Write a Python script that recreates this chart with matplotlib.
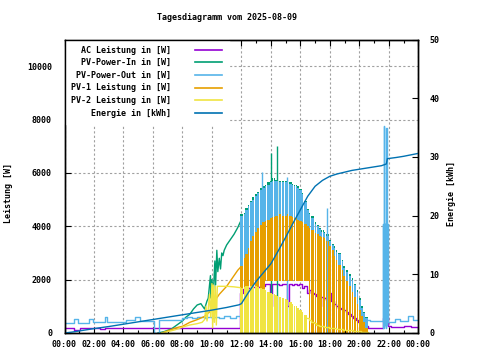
import numpy as np
import matplotlib
matplotlib.use("Agg")
import matplotlib.pyplot as plt
from matplotlib.lines import Line2D
from matplotlib.ticker import MultipleLocator

plt.rcParams['font.family'] = ['DejaVu Sans Mono']
plt.rcParams['font.weight'] = 'bold'
FS = 6.0

TITLE = "Tagesdiagramm vom 2025-08-09"
YLABEL = "Leistung [W]"
Y2LABEL = "Energie [kWh]"
SERIES_NAMES = ["AC Leistung in [W]", "PV-Power-In in [W]", "PV-Power-Out in [W]",
                "PV-1 Leistung in [W]", "PV-2 Leistung in [W]", "Energie in [kWh]"]
COLORS = ["#9400d3", "#009e73", "#56b4e9", "#e69f00", "#f0e442", "#0072b2"]

x_ticks_h = [0, 2, 4, 6, 8, 10, 12, 14, 16, 18, 20, 22, 24]
x_tick_labels = ["00:00", "02:00", "04:00", "06:00", "08:00", "10:00", "12:00",
                 "14:00", "16:00", "18:00", "20:00", "22:00", "00:00"]
y_ticks = [0, 2000, 4000, 6000, 8000, 10000]
y2_ticks = [0, 10, 20, 30, 40, 50]

# ---------------- AC Leistung (purple) ----------------
ac_am_t = ["00:00", "00:40", "01:05", "02:25", "02:45", "04:00", "05:00", "06:00", "07:00",
           "08:00", "08:30", "09:30", "10:30", "11:30", "11:55"]
ac_am_v = [190, 130, 190, 150, 190, 180, 190, 185, 190, 170, 190, 180, 190, 180, 180]
ac_pm_t = ["20:35", "21:00", "21:38", "21:45", "21:50", "21:55", "22:10", "23:00", "23:30", "24:00"]
ac_pm_v = [200, 180, 550, 300, 600, 250, 230, 260, 230, 230]

# ---------------- daytime band (10-min samples from 11:55) ----------------
BAND_START = "11:55"
BAND_STEP_MIN = 10
ac_day_v = [1500, 1650, 1700, 1700, 1720, 1720, 1740, 1740, 1750, 1760,
            1820, 1850, 1000, 1830, 1850, 1820, 1800, 1850, 1820, 1000,
            1830, 1800, 1850, 1800, 1820, 1700, 1750, 1500, 1600, 1500,
            1450, 1400, 1000, 1350, 1300, 1250, 1500, 1200, 1100, 1000,
            950, 900, 850, 800, 700, 650, 550, 500, 400, 350,
            300, 250, 200]
pvin_day_hi = [4450, 4500, 4700, 4800, 4950, 5100, 5200, 5300, 5450, 5500,
               5550, 5650, 5700, 5800, 5750, 5750, 5700, 5700, 5700, 5650,
               5650, 5600, 5550, 5500, 5400, 5250, 4950, 4650, 4500, 4400,
               4150, 4050, 3950, 3850, 3800, 3700, 3500, 3350, 3250, 3100,
               3000, 2750, 2500, 2350, 2200, 2050, 1850, 1600, 1300, 1000,
               800, 600, 500]
pvout_day_hi = [4400, 4450, 4600, 4750, 4900, 5000, 5150, 5250, 5350, 5450,
                5500, 5550, 5650, 5700, 5700, 5700, 5650, 5650, 5650, 5600,
                5600, 5550, 5500, 5450, 5350, 5200, 4900, 4600, 4450, 4300,
                4100, 4000, 3900, 3800, 3750, 3650, 3450, 3300, 3200, 3050,
                2950, 2700, 2450, 2300, 2150, 2000, 1800, 1550, 1250, 950,
                750, 550, 470]
pv1_day_hi = [2500, 2800, 2950, 3200, 3450, 3650, 3800, 3950, 4050, 4150,
              4200, 4250, 4300, 4350, 4400, 4400, 4450, 4400, 4400, 4450,
              4400, 4350, 4300, 4250, 4200, 4150, 4100, 4000, 3950, 3850,
              3750, 3700, 3650, 3600, 3550, 3450, 3250, 3100, 2900, 2750,
              2550, 2350, 2150, 1950, 1750, 1550, 1350, 1100, 850, 650,
              400, 200, 0]
band_lo = ([0, 0, 0, 0, 0, 0, 0, 0, 0, 0]
           + [1950, 1950, 1950, 1950, 1950, 1950, 1950, 1950, 1950,
              1950, 1950, 1950, 1950, 1950, 1950, 1950, 1950, 1950]
           + [0, 0, 0, 0, 0, 0, 0, 0, 0, 0, 0, 0, 0, 0, 0, 0, 0, 0, 0, 0, 0, 0, 0, 0, 0])
pv2_day_hi = [1700, 1720, 1750, 1750, 1750, 1750, 1750, 1730, 1700, 1650,
              1600, 1550, 1500, 1470, 1430, 1400, 1350, 1300, 1270, 1230,
              1180, 1100, 1030, 950, 870, 780, 680, 580, 480, 420,
              360, 310, 280, 250, 230, 210, 200, 190, 180, 165,
              150, 140, 130, 120, 110, 100, 90, 80, 65, 50,
              35, 20, 0]
PV2_FLICKER_UNTIL = "16:25"
dropout_times = ["12:05", "12:30", "12:50", "13:10", "13:30", "13:40", "14:10", "14:30",
                 "14:40", "14:55", "15:10", "15:30", "15:40", "16:10", "16:40", "16:55",
                 "17:05", "17:30", "17:40", "17:50", "18:05", "18:20", "18:30", "18:45",
                 "19:00", "19:15", "19:25", "19:35", "19:45", "19:55"]
DROPOUT_MIN = 4

# ---------------- PV-Power-In (green) ----------------
pvin_am_t = ["06:20", "06:45", "07:00", "07:15", "07:30", "07:45", "08:00", "08:15", "08:30",
             "08:45", "09:00", "09:15", "09:30", "09:40", "09:45", "09:54", "09:57", "10:00",
             "10:06", "10:12", "10:15", "10:20", "10:24", "10:30", "10:35", "10:40", "10:45",
             "10:50", "11:00", "11:15", "11:30", "11:45", "11:55"]
pvin_am_v = [0, 50, 100, 150, 250, 350, 450, 600, 700, 900, 1050, 1100, 900, 1200, 1300,
             2150, 1300, 2000, 1500, 2700, 1800, 3100, 2300, 2800, 2400, 3000, 2900, 3100,
             3300, 3500, 3700, 3950, 4150]
pvin_spike_t = ["13:59", "14:23"]
pvin_spike_v = [6750, 7000]

# ---------------- PV-Power-Out (light blue) ----------------
pvout_am_t = ["00:00", "00:38", "00:56", "01:40", "01:57", "02:45", "02:52", "04:12", "04:47",
              "05:07", "06:04", "06:25", "08:00", "08:20", "08:40", "09:00", "09:30", "09:40",
              "10:00", "10:10", "10:30", "10:50", "11:15", "11:40", "11:55"]
pvout_am_v = [390, 525, 390, 525, 400, 600, 400, 500, 590, 435, 0, 500, 550, 600, 550, 600,
              550, 600, 550, 600, 560, 650, 570, 620, 620]
pvout_spike_t = ["13:22", "15:04", "17:48"]
pvout_spike_v = [6050, 5850, 4700]
pvout_pm_t = ["20:35", "20:45", "21:00", "21:20", "21:36", "21:38", "21:39", "21:40", "21:41",
              "21:43", "21:45", "21:47", "21:48", "21:50", "21:51", "21:53", "21:54", "21:56",
              "22:00", "22:25", "22:45", "23:20", "23:40", "24:00"]
pvout_pm_v = [470, 450, 440, 440, 4100, 200, 4100, 7750, 4100, 300, 4100, 200, 4100, 7700,
              4100, 300, 4100, 420, 400, 525, 435, 625, 500, 500]

# ---------------- PV-1 (orange) / PV-2 (yellow) mornings ----------------
pv1_am_t = ["06:35", "07:00", "07:15", "07:30", "07:45", "08:00", "08:30", "09:00", "09:30",
            "09:45", "10:00", "10:05", "10:10", "10:15", "10:30", "10:45", "11:00", "11:15",
            "11:30", "11:45", "11:55"]
pv1_am_v = [0, 80, 130, 180, 220, 250, 400, 500, 620, 750, 850, 1200, 900, 1250, 1450, 1600,
            1750, 1950, 2150, 2350, 2450]
pv2_am_t = ["06:35", "07:00", "07:30", "08:00", "08:30", "09:00", "09:20", "09:30", "09:36",
            "09:40", "09:45", "09:50", "09:55", "10:00", "10:03", "10:06", "10:10", "10:14",
            "10:18", "10:22", "10:30", "11:00", "11:30", "11:55"]
pv2_am_v = [0, 50, 120, 220, 300, 350, 400, 500, 1000, 450, 900, 1450, 600, 1850, 200, 1800,
            400, 1750, 300, 1750, 1750, 1750, 1730, 1700]

# ---------------- Energie (kWh) ----------------
energy_t = ["00:00", "00:30", "01:00", "02:00", "03:00", "04:00", "05:00", "06:00", "07:00",
            "08:00", "09:00", "10:00", "11:00", "11:50", "12:00", "12:15", "12:30", "13:00",
            "13:30", "14:00", "14:30", "15:00", "15:30", "16:00", "16:30", "17:00", "17:30",
            "18:00", "18:30", "19:00", "19:30", "20:00", "20:30", "21:00", "21:30", "21:50",
            "21:54", "22:30", "23:00", "23:30", "24:00"]
energy_v = [0.0, 0.15, 0.35, 0.75, 1.1, 1.5, 1.9, 2.3, 2.7, 3.1, 3.5, 3.9, 4.35, 4.8, 5.0,
            6.0, 7.0, 8.8, 10.3, 11.8, 14.0, 16.3, 18.7, 21.0, 23.3, 25.0, 26.0, 26.7, 27.1,
            27.4, 27.7, 27.9, 28.1, 28.3, 28.5, 28.8, 29.7, 29.9, 30.1, 30.35, 30.6]


def hrs(ts):
    return np.array([int(s[:2]) + int(s[3:]) / 60 for s in ts])


# build daytime sample axis with dropouts
band_t = hrs([BAND_START])[0] + np.arange(len(pvout_day_hi)) * BAND_STEP_MIN / 60
drop_t = hrs(dropout_times)
drop_w = DROPOUT_MIN / 60
ts = np.unique(np.round(np.concatenate([band_t, drop_t, drop_t + drop_w]), 6))
ts = ts[(ts >= band_t[0] - 1e-9) & (ts <= band_t[-1] + 1e-9)]
idx = np.clip(np.searchsorted(band_t, ts + 1e-6, side='right') - 1, 0, len(band_t) - 1)
off = np.zeros(len(ts), bool)
for d in drop_t:
    off |= (ts >= d - 1e-6) & (ts < d + drop_w - 1e-6)


def raw(vals):
    return np.asarray(vals, float)[idx]


def band(vals):
    return np.where(off, 0.0, raw(vals))


fig = plt.figure(figsize=(4.8, 3.6), dpi=100)
ax = fig.add_axes([64.5 / 480, 1 - 333 / 360, (418.3 - 64.5) / 480, (333 - 39.5) / 360])
ax2 = ax.twinx()

LW = 1.0
c_ac, c_in, c_out, c_pv1, c_pv2, c_en = COLORS
FILL_KW = dict(step='post', lw=0, antialiased=False)

# AC
ac_t = np.concatenate([hrs(ac_am_t), band_t, hrs(ac_pm_t)])
ac_v = np.concatenate([ac_am_v, ac_day_v, ac_pm_v])
ax.step(ac_t, ac_v, where='post', color=c_ac, lw=LW, zorder=2)

# PV-Power-In
lo = band(band_lo)
ax.plot(hrs(pvin_am_t), pvin_am_v, color=c_in, lw=LW, zorder=3)
ax.fill_between(ts, lo, band(pvin_day_hi), color=c_in, zorder=3, **FILL_KW)
ax.vlines(hrs(pvin_spike_t), 0, pvin_spike_v, color=c_in, lw=LW, zorder=3)

# PV-Power-Out
ax.step(hrs(pvout_am_t), pvout_am_v, where='post', color=c_out, lw=LW, zorder=4)
ax.fill_between(ts, lo, band(pvout_day_hi), color=c_out, zorder=4, **FILL_KW)
ax.vlines(hrs(pvout_spike_t), 0, pvout_spike_v, color=c_out, lw=LW, zorder=4)
ax.step(hrs(pvout_pm_t), pvout_pm_v, where='post', color=c_out, lw=LW, zorder=4)

# PV-1
ax.plot(hrs(pv1_am_t), pv1_am_v, color=c_pv1, lw=LW, zorder=5)
ax.fill_between(ts, lo, band(pv1_day_hi), color=c_pv1, zorder=5, **FILL_KW)

# PV-2
ax.plot(hrs(pv2_am_t), pv2_am_v, color=c_pv2, lw=LW, zorder=6)
flick = ts < hrs([PV2_FLICKER_UNTIL])[0]
ye_raw = raw(pv2_day_hi)
ye_hi = np.where(flick, band(pv2_day_hi), ye_raw)
ye_lo = np.where(flick, 0.0, ye_raw)
ax.fill_between(ts, ye_lo, ye_hi, color=c_pv2, zorder=6, **FILL_KW)
ax.step(ts[~flick], ye_raw[~flick], where='post', color=c_pv2, lw=LW, zorder=6)

# Energie
ax2.plot(hrs(energy_t), energy_v, color=c_en, lw=LW, zorder=7)

# axes setup
ax.set_xlim(0, 24)
ax.set_ylim(0, 11000)
ax2.set_ylim(0, 50)
ax.set_xticks(x_ticks_h)
ax.set_xticklabels(x_tick_labels)
ax.xaxis.set_minor_locator(MultipleLocator(1))
ax.set_yticks(y_ticks)
ax.set_yticklabels([str(v) for v in y_ticks])
ax2.set_yticks(y2_ticks)
ax2.set_yticklabels([str(v) for v in y2_ticks])
ax.tick_params(axis='x', which='major', direction='in', top=True, bottom=True,
               length=4, width=0.8, pad=5, labelsize=FS)
ax.tick_params(axis='x', which='minor', direction='in', top=True, bottom=True,
               length=2.5, width=0.8)
ax.tick_params(axis='y', direction='in', left=True, right=False, length=4, width=0.8,
               pad=9, labelsize=FS)
ax2.tick_params(axis='y', direction='in', length=4, width=0.8, pad=8, labelsize=FS)
for a in (ax, ax2):
    for s in a.spines.values():
        s.set_linewidth(1.0)
        s.set_zorder(30)
ax.grid(True, which='major', color='#a0a0a0', linestyle=(0, (2, 2)), lw=0.8)
ax.set_axisbelow(True)

handles = [Line2D([], [], color=c, lw=1.2) for c in COLORS]
leg = ax2.legend(handles, SERIES_NAMES, loc='upper left', bbox_to_anchor=(0, 1),
                 borderaxespad=0, markerfirst=False, frameon=True, fancybox=False,
                 framealpha=1, facecolor='white', edgecolor='white', fontsize=FS,
                 handlelength=3.3, handletextpad=2.9, labelspacing=0.43, borderpad=0.75)
leg.set_zorder(20)

fig.text(227 / 480, 1 - 18 / 360, TITLE, ha='center', va='center', fontsize=FS)
fig.text(9 / 480, 1 - 193 / 360, YLABEL, ha='center', va='center', rotation=90, fontsize=FS)
fig.text(452 / 480, 1 - 194 / 360, Y2LABEL, ha='center', va='center', rotation=90, fontsize=FS)

fig.savefig("out.png", dpi=100)
